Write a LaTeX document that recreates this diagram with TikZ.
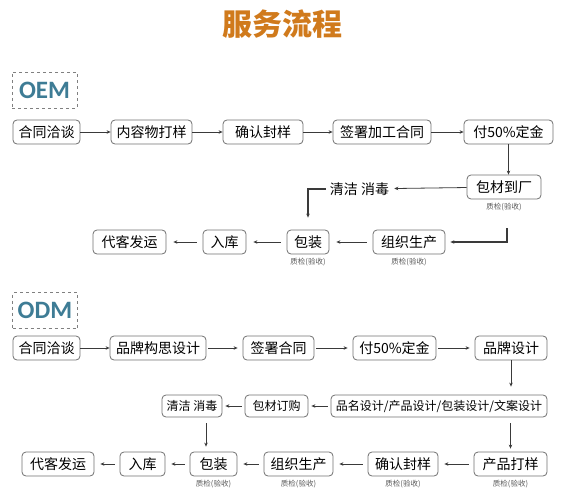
\documentclass[tikz,border=0pt]{standalone}
\usepackage{fontspec}
\setmainfont{Noto Sans CJK SC}
\newfontfamily\tagfont{Carlito}
\usetikzlibrary{positioning, arrows.meta, calc}
\definecolor{boxgray}{HTML}{707070}
\definecolor{linegray}{HTML}{3A3A3A}
\definecolor{titleorange}{HTML}{D07A1C}
\definecolor{tagblue}{HTML}{3E7C95}

\begin{document}
\begin{tikzpicture}[x=1pt, y=-1pt,
	box/.style={draw=boxgray, line width=0.8pt, rounded corners=4pt, fill=white, inner sep=0pt, minimum height=24pt, font=\fontsize{14}{14}\selectfont},
	smallbox/.style={box, minimum height=22pt, font=\fontsize{12}{12}\selectfont},
	qc/.style={font=\fontsize{7.5}{7.5}\selectfont, text=black!65, inner sep=0pt},
	tag/.style={draw=black!50, dashed, line width=0.7pt, minimum width=65pt, minimum height=36pt, inner sep=0pt, font=\tagfont\bfseries\fontsize{25}{25}\selectfont, text=tagblue},
	link/.style={-{Stealth[length=4pt, width=3.5pt]}, draw=linegray, line width=0.8pt},
	]
	\useasboundingbox (0,0) rectangle (570,500);
	% title
	\node[font=\bfseries\fontsize{30}{30}\selectfont, text=titleorange] (title) at (282,24) {服务流程};

	% OEM
	\node[tag] (oem) at (44.5,90) {OEM};
	\foreach \n/\x/\y/\w/\t in {oa/46.5/132/67/合同洽谈, ob/151.5/132/81/内容物打样, oc/263/132/80/确认封样, od/382/132/98/签署加工合同, oe/508.5/132/89/付50\%定金, of/504/187/74/包材到厂, oh/409/242/72/组织生产, oi/308/242/42/包装, oj/224.5/242/43/入库, ok/129.5/242/73/代客发运}
		\node[box, minimum width=\w pt] (\n) at (\x,\y) {\t};
	\node[font=\fontsize{14}{14}\selectfont, inner sep=2pt] (og) at (359.5,189) {清洁 消毒};
	\foreach \n in {of, oi, oh}
		\node[qc, below=4pt of \n] (\n-qc) {质检(验收)};
	\coordinate (bend) at (507,228);

	\foreach \a/\b in {oa/ob, ob/oc, oc/od, od/oe}
		\draw[link] (\a) -- (\b);
	\draw[link] (oe.south) -- (oe.south |- of.north);
	\draw[link, shorten >=3pt] (of) -- (og);
	\draw[link, line width=1.3pt, shorten <=2pt] (og.west) -| ([yshift=12pt]oi.north);
	\draw[link, line width=1.3pt] (bend) |- ([xshift=5pt]oh.east);
	\foreach \a/\b in {oh/oi, oi/oj, oj/ok}
		\draw[link, shorten <=6pt, shorten >=7pt] (\a) -- (\b);

	% ODM
	\node[tag] (odm) at (45,310.5) {ODM};
	\foreach \n/\x/\y/\w/\t in {pa/46.5/348/67/合同洽谈, pb/158/348/96/品牌构思设计, pc/278.5/348/71/签署合同, pd/394.5/348/83/付50\%定金, pe/511/348/72/品牌设计, pi/510.5/464/73/产品打样, pj/403/464/70/确认封样, pk/298.5/464/69/组织生产, pl/213.5/464/47/包装, pm/142.5/464/45/入库, pn/58/464/72/代客发运}
		\node[box, minimum width=\w pt] (\n) at (\x,\y) {\t};
	\node[smallbox, minimum width=216pt] (pf) at (439,406) {品名设计/产品设计/包装设计/文案设计};
	\node[smallbox, minimum width=63pt] (pg) at (276.5,406) {包材订购};
	\node[smallbox, minimum width=60pt] (ph) at (192,406) {清洁 消毒};
	\foreach \n in {pl, pk, pj, pi}
		\node[qc, below=4pt of \n] (\n-qc) {质检(验收)};

	\draw[link] (pa) -- (pb);
	\foreach \a/\b in {pb/pc, pc/pd, pd/pe}
		\draw[link, shorten <=2pt, shorten >=5pt] (\a) -- (\b);
	\draw[link, shorten >=8pt] (pe.south) -- (pe.south |- pf.north);
	\foreach \a/\b in {pf/pg, pg/ph}
		\draw[link, shorten <=3pt, shorten >=3pt] (\a) -- (\b);
	\draw[link, shorten <=6pt, shorten >=5pt] ([xshift=14pt]ph.south) -- ([xshift=14pt]ph.south |- pl.north);
	\draw[link, shorten <=6pt, shorten >=3pt] (pf.south -| pi.north) -- (pi.north);
	\foreach \a/\b in {pi/pj, pj/pk, pk/pl, pl/pm, pm/pn}
		\draw[link, shorten <=5pt, shorten >=6pt] (\a) -- (\b);
\end{tikzpicture}
\end{document}
